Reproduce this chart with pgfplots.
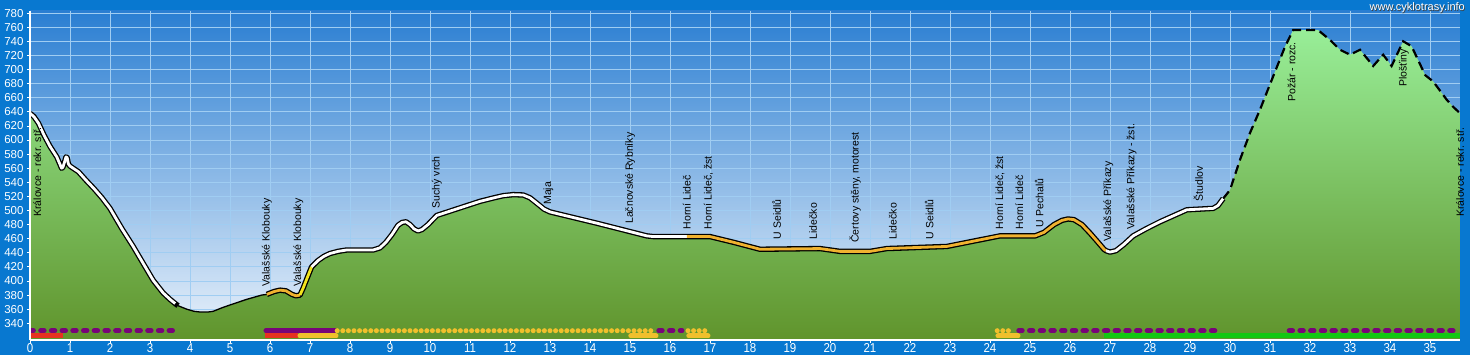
\documentclass[border=0pt]{standalone}
\usepackage{fontspec}
\setmainfont{Liberation Sans}
\usepackage{pgfplots}
\usepackage{pgfplotstable}
\pgfplotsset{compat=1.18}

\definecolor{outerblue}{RGB}{8,120,208}
\definecolor{skytop}{RGB}{42,126,210}
\definecolor{skybot}{RGB}{236,243,251}
\definecolor{gridc}{RGB}{160,205,242}
\definecolor{gtop}{RGB}{152,238,152}
\definecolor{gbot}{RGB}{96,148,44}
\definecolor{orangeL}{RGB}{240,178,48}
\definecolor{yellowL}{RGB}{242,228,30}
\definecolor{purp}{RGB}{120,4,120}
\definecolor{ydot}{RGB}{240,192,44}
\definecolor{redb}{RGB}{230,50,32}
\definecolor{greenb}{RGB}{18,200,18}
\tikzset{lab/.style={rotate=90, anchor=west, inner sep=0pt, font=\fontsize{10.5}{10.5}\selectfont, black},
  pdash/.style={purp, line width=5pt, line cap=round, dash pattern=on 3.4pt off 7.3pt}}

\pgfplotstableread{
x y
0 638
0.1 633
0.21 624
0.35 607
0.5 591
0.67 576
0.79 560
0.82 561
0.86 568
0.9 576
0.93 575
0.96 566
1.0 563
1.21 555
1.4 543
1.6 531
1.8 518
2.0 503
2.3 474
2.58 449
2.85 423
3.08 401
3.33 383
3.5 374
3.63 368
3.7 365
3.92 360
4.1 357
4.25 356
4.45 356
4.58 357
4.8 362
5.0 366
5.42 374
5.79 380
5.92 381
6.1 385
6.25 387
6.4 386
6.55 381
6.65 379
6.75 380
6.83 390
6.92 403
7.04 420
7.2 429
7.35 435
7.5 439
7.7 442
7.92 444
8.58 444
8.75 447
8.9 455
9.05 466
9.2 479
9.3 483
9.4 484
9.5 480
9.6 474
9.7 471
9.8 473
9.95 480
10.17 493
11.25 513
11.6 518
11.83 521
12.08 522.5
12.33 522
12.5 518
12.7 509
12.85 502
13.0 498
14.17 482
15.42 464
15.58 463
16.42 463
17.0 463
17.58 455
18.25 445
19.75 446
20.25 442
21.0 442
21.42 446
22.92 449
24.25 464
25.13 464
25.35 469
25.6 480
25.8 486
25.95 488
26.1 487
26.3 480
26.5 468
26.7 455
26.85 445
26.9 443
27.0 441
27.15 443
27.35 452
27.58 464
27.9 474
28.25 484
28.92 501
29.58 503
29.7 507
29.83 517
30.0 529
30.25 572
30.5 610
30.75 643
31.0 679
31.38 733
31.58 756
32.2 756
32.5 742
32.75 728
33.0 721
33.25 728
33.58 705
33.83 721
34.04 705
34.33 740
34.54 733
34.88 692
35.08 683
35.42 657
35.58 647
35.75 638
}\profile

\begin{document}
\begin{tikzpicture}
\fill[outerblue] (-30pt,-15pt) rectangle (1440pt,340pt);
\begin{axis}[
  at={(0pt,0pt)}, anchor=south west,
  scale only axis, width=1430pt, height=329pt,
  xmin=0, xmax=35.75, ymin=316.3, ymax=783,
  xtick={0,1,...,35}, ytick={340,360,...,780},
  xtick pos=bottom, ytick pos=left,
  grid=major, major grid style={draw=gridc, line width=0.9pt},
  axis line style={draw=none},
  tick style={white, line width=0.8pt}, tick align=outside, major tick length=3pt,
  ticklabel style={white, font=\fontsize{11.5}{11.5}\selectfont},
  xticklabel style={inner sep=0pt, yscale=1.12, yshift=-0.5pt},
  /pgf/number format/assume math mode=true,
  axis background/.style={top color=skytop, bottom color=skybot},
  clip mode=individual,
]
% terrain
\addplot[draw=none, top color=gtop, bottom color=gbot] table[x=x,y=y]{\profile} -- (axis cs:35.75,316.3) -- (axis cs:0,316.3) -- cycle;
% black outlines of thick segments
\addplot[black, line width=5.4pt, line join=round, restrict x to domain=0:3.7] table[x=x,y=y]{\profile};
\addplot[black, line width=5.4pt, line join=round, restrict x to domain=5.92:29.83] table[x=x,y=y]{\profile};
% thin segment
\addplot[black, line width=1.3pt, line join=round, restrict x to domain=3.7:5.92] table[x=x,y=y]{\profile};
% coloured inner lines
\addplot[white, line width=2.8pt, line join=round, restrict x to domain=0:3.63] table[x=x,y=y]{\profile};
\addplot[orangeL, line width=2.8pt, line join=round, restrict x to domain=5.92:6.75] table[x=x,y=y]{\profile};
\addplot[yellowL, line width=2.8pt, line join=round, restrict x to domain=6.75:7.04] table[x=x,y=y]{\profile};
\addplot[white, line width=2.8pt, line join=round, restrict x to domain=7.04:16.42] table[x=x,y=y]{\profile};
\addplot[orangeL, line width=2.8pt, line join=round, restrict x to domain=16.42:26.9] table[x=x,y=y]{\profile};
\addplot[white, line width=2.8pt, line join=round, restrict x to domain=26.9:29.83] table[x=x,y=y]{\profile};
% dashed segment
\addplot[black, line width=2.2pt, dash pattern=on 9pt off 5pt, restrict x to domain=29.83:35.75] table[x=x,y=y]{\profile};

% bottom markers row 1
\addplot[pdash] coordinates {(0,329.5) (3.73,329.5)};
\addplot[purp, line width=5pt, line cap=round] coordinates {(5.9,329.5) (7.62,329.5)};
\addplot[ydot, line width=5pt, line cap=round, dash pattern=on 0pt off 5.6pt] coordinates {(7.68,329.5) (15.62,329.5)};
\addplot[pdash] coordinates {(15.72,329.5) (16.3,329.5)};
\addplot[ydot, line width=5pt, line cap=round, dash pattern=on 0pt off 5.6pt] coordinates {(16.45,329.5) (16.96,329.5)};
\addplot[ydot, line width=5pt, line cap=round, dash pattern=on 0pt off 5.6pt] coordinates {(24.18,329.5) (24.6,329.5)};
\addplot[pdash] coordinates {(24.72,329.5) (29.73,329.5)};
\addplot[pdash] coordinates {(31.48,329.5) (35.75,329.5)};
% bottom markers row 2
\addplot[redb, line width=5pt] coordinates {(0,322) (0.83,322)};
\addplot[redb, line width=5pt] coordinates {(5.87,322) (6.7,322)};
\addplot[ydot, line width=5pt, line cap=round] coordinates {(6.75,322) (7.65,322)};
\addplot[ydot, line width=5pt, line cap=round] coordinates {(15.02,322) (15.65,322)};
\addplot[ydot, line width=5pt, line cap=round] coordinates {(16.47,322) (16.95,322)};
\addplot[ydot, line width=5pt, line cap=round] coordinates {(24.2,322) (24.7,322)};
\addplot[greenb, line width=5pt] coordinates {(26.85,322) (35.75,322)};

% axis lines
\draw[white, line width=1.1pt] (rel axis cs:0,0) -- (rel axis cs:1,0);
\draw[white, line width=1.1pt] (rel axis cs:0,0) -- (rel axis cs:0,1);

% labels
\node[lab] at (axis cs:0.18,491) {Královce - rekr. stř.};
\node[lab] at (axis cs:5.92,392) {Valašské Klobouky};
\node[lab] at (axis cs:6.71,392) {Valašské Klobouky};
\node[lab] at (axis cs:10.17,503) {Suchý vrch};
\node[lab] at (axis cs:12.96,508) {Maja};
\node[lab] at (axis cs:15.0,481) {Lačnovské Rybníky};
\node[lab] at (axis cs:16.42,473) {Horní Lideč};
\node[lab] at (axis cs:16.96,473) {Horní Lideč, žst};
\node[lab] at (axis cs:18.67,459) {U Seidlů};
\node[lab] at (axis cs:19.58,459) {Lidečko};
\node[lab] at (axis cs:20.63,454) {Čertovy stěny, motorest};
\node[lab] at (axis cs:21.57,459) {Lidečko};
\node[lab] at (axis cs:22.48,459) {U Seidlů};
\node[lab] at (axis cs:24.25,473) {Horní Lideč, žst};
\node[lab] at (axis cs:24.73,473) {Horní Lideč};
\node[lab] at (axis cs:25.23,476) {U Pechalů};
\node[lab] at (axis cs:26.96,456) {Valašské Příkazy};
\node[lab] at (axis cs:27.54,473) {Valašské Příkazy - žst.};
\node[lab] at (axis cs:29.21,513) {Študlov};
\node[lab] at (axis cs:31.54,654) {Požár - rozc.};
\node[lab] at (axis cs:34.35,675) {Plošťiny};
\node[lab] at (axis cs:35.75,491) {Královce - rekr. stř.};
\end{axis}
\node[anchor=east, black!75, font=\fontsize{11}{11}\selectfont, inner sep=0pt] at (1435.8pt,331.8pt) {www.cyklotrasy.info};
\node[anchor=east, white, font=\fontsize{11}{11}\selectfont, inner sep=0pt] at (1435pt,332.5pt) {www.cyklotrasy.info};
\pgfresetboundingbox
\useasboundingbox (-30pt,-15pt) rectangle (1440pt,340pt);
\end{tikzpicture}
\end{document}
